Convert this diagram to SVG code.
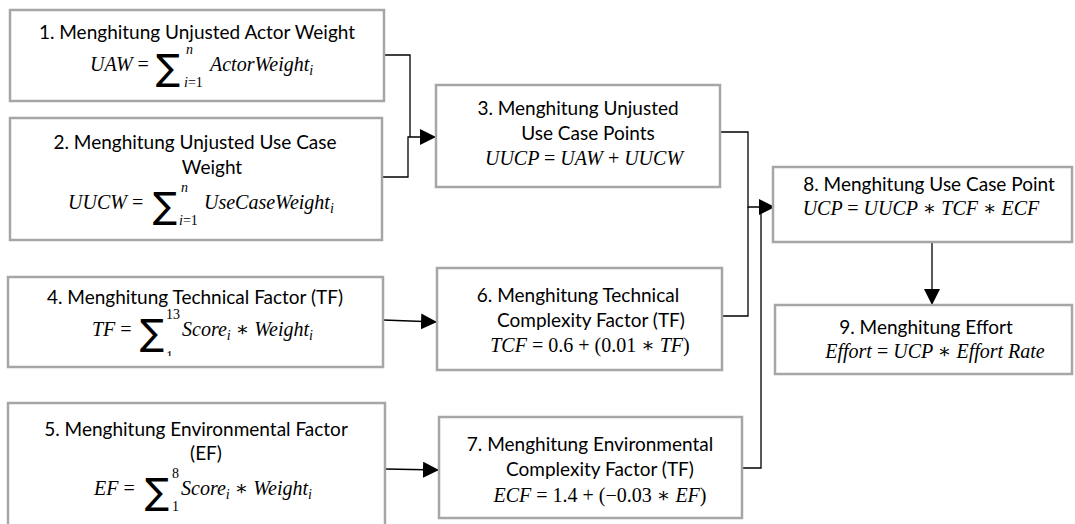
<svg xmlns="http://www.w3.org/2000/svg" width="1075" height="524" viewBox="0 0 1075 524">
<style>
.box{fill:#fff;stroke:#a6a6a6;stroke-width:2.5}
.t{font-family:Lato,"Liberation Sans",sans-serif;font-size:19px;fill:#000;text-anchor:middle}
.m{font-family:"Liberation Serif","DejaVu Serif",serif;font-style:italic;font-size:20px;fill:#000}
.mc{font-family:"Liberation Serif","DejaVu Serif",serif;font-style:italic;font-size:20px;fill:#000;text-anchor:middle}
.u{font-style:normal}
.s{font-family:"Liberation Serif","DejaVu Serif",serif;font-size:14px;fill:#000}
.si{font-style:italic}
.sig{font-family:"DejaVu Sans",sans-serif;font-size:36px;fill:#000}
.c{fill:none;stroke:#000;stroke-width:1.3}
</style>
<defs>
<marker id="ah" markerUnits="userSpaceOnUse" markerWidth="16" markerHeight="16" viewBox="0 0 16 16" refX="16" refY="8" orient="auto">
<path d="M0,0 L16,8 L0,16 z" fill="#000"/>
</marker>
<clipPath id="clip4"><rect x="8" y="277" width="375" height="79"/></clipPath>
</defs>
<g id="connectors">
<path class="c" d="M384,55 H410 V137"/>
<path class="c" d="M382,177 H408 V137 H436" marker-end="url(#ah)"/>
<path class="c" d="M720,132 H748 V207 H775" marker-end="url(#ah)"/>
<path class="c" d="M722,316 H748 V207"/>
<path class="c" d="M742,468 H761 V207"/>
<path class="c" d="M383,320 L437,322" marker-end="url(#ah)"/>
<path class="c" d="M385,469 L439,470" marker-end="url(#ah)"/>
<path class="c" d="M932,242 V305" marker-end="url(#ah)"/>
</g>
<g id="n1">
<rect class="box" x="10" y="10" width="374" height="91"/>
<text class="t" x="197" y="39">1. Menghitung Unjusted Actor Weight</text>
<text class="m" x="90" y="71">UAW <tspan class="u">=</tspan></text>
<text class="sig" x="156" y="80">∑</text>
<text class="s si" x="186" y="54">n</text>
<text class="s" x="184" y="87"><tspan class="si">i</tspan>=1</text>
<text class="m" x="210" y="71">ActorWeight<tspan class="s" dy="4">i</tspan></text>
</g>
<g id="n2">
<rect class="box" x="10" y="118" width="372" height="122"/>
<text class="t" x="195" y="149">2. Menghitung Unjusted Use Case</text>
<text class="t" x="212" y="174">Weight</text>
<text class="m" x="68" y="209">UUCW <tspan class="u">=</tspan></text>
<text class="sig" x="153" y="218">∑</text>
<text class="s si" x="181" y="192">n</text>
<text class="s" x="179" y="225"><tspan class="si">i</tspan>=1</text>
<text class="m" x="204" y="209">UseCaseWeight<tspan class="s" dy="4">i</tspan></text>
</g>
<g id="n3">
<rect class="box" x="436" y="85" width="284" height="102"/>
<text class="t" x="578" y="115">3. Menghitung Unjusted</text>
<text class="t" x="588" y="140">Use Case Points</text>
<text class="mc" x="584" y="165">UUCP <tspan class="u">=</tspan> UAW <tspan class="u">+</tspan> UUCW</text>
</g>
<g id="n4">
<rect class="box" x="8" y="277" width="375" height="90"/>
<text class="t" x="195" y="304">4. Menghitung Technical Factor (TF)</text>
<text class="m" x="92" y="336">TF <tspan class="u">=</tspan></text>
<text class="sig" x="140" y="345">∑</text>
<text class="s" x="166" y="319">13</text>
<g clip-path="url(#clip4)"><text class="s" x="166" y="361">1</text></g>
<text class="m" x="182" y="336">Score<tspan class="s" dy="4">i</tspan><tspan class="u" dy="-4"> ∗ </tspan>Weight<tspan class="s" dy="4">i</tspan></text>
</g>
<g id="n5">
<rect class="box" x="8" y="403" width="377" height="124"/>
<text class="t" x="196" y="436">5. Menghitung Environmental Factor</text>
<text class="t" x="206" y="460">(EF)</text>
<text class="m" x="94" y="495">EF <tspan class="u">=</tspan></text>
<text class="sig" x="145" y="504">∑</text>
<text class="s" x="172" y="478">8</text>
<text class="s" x="172" y="511">1</text>
<text class="m" x="181" y="495">Score<tspan class="s" dy="4">i</tspan><tspan class="u" dy="-4"> ∗ </tspan>Weight<tspan class="s" dy="4">i</tspan></text>
</g>
<g id="n6">
<rect class="box" x="437" y="268" width="285" height="102"/>
<text class="t" x="578" y="302">6. Menghitung Technical</text>
<text class="t" x="591" y="327">Complexity Factor (TF)</text>
<text class="mc" x="590" y="352">TCF <tspan class="u">= 0.6 + (0.01 ∗ </tspan>TF<tspan class="u">)</tspan></text>
</g>
<g id="n7">
<rect class="box" x="439" y="417" width="303" height="101"/>
<text class="t" x="590" y="451">7. Menghitung Environmental</text>
<text class="t" x="600" y="476">Complexity Factor (TF)</text>
<text class="mc" x="600" y="502">ECF <tspan class="u">= 1.4 + (−0.03 ∗ </tspan>EF<tspan class="u">)</tspan></text>
</g>
<g id="n8">
<rect class="box" x="773" y="167" width="299" height="75"/>
<text class="t" x="929" y="191">8. Menghitung Use Case Point</text>
<text class="mc" x="921" y="215">UCP <tspan class="u">=</tspan> UUCP <tspan class="u">∗</tspan> TCF <tspan class="u">∗</tspan> ECF</text>
</g>
<g id="n9">
<rect class="box" x="775" y="305" width="297" height="69"/>
<text class="t" x="926" y="334">9. Menghitung Effort</text>
<text class="mc" x="935" y="358">Effort <tspan class="u">=</tspan> UCP <tspan class="u">∗</tspan> Effort Rate</text>
</g>
</svg>
